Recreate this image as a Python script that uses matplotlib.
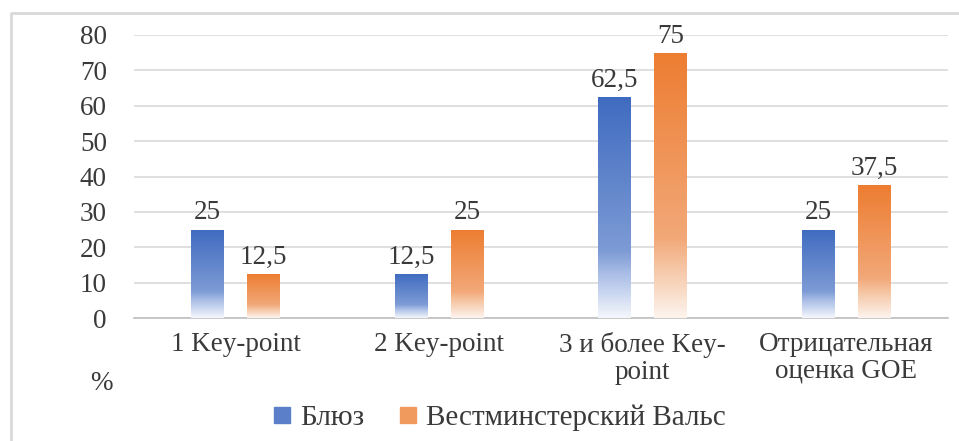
import matplotlib
matplotlib.use("Agg")
import matplotlib.pyplot as plt
import numpy as np
from matplotlib.colors import LinearSegmentedColormap
from matplotlib.patches import Patch
from matplotlib.lines import Line2D

categories = ["1 Key-point", "2 Key-point", "3 и более Key-\npoint", "Отрицательная\nоценка GOE"]
blues = [25, 12.5, 62.5, 25]
walz = [12.5, 25, 75, 37.5]
labels_blues = ["25", "12,5", "62,5", "25"]
labels_walz = ["12,5", "25", "75", "37,5"]
series_names = ["Блюз", "Вестминстерский Вальс"]

plt.rcParams['font.family'] = ['Liberation Serif', 'DejaVu Serif']
txt = '#3a3a3a'
fs = 19.5

fig = plt.figure(figsize=(9.59, 4.41), dpi=100)
ax = fig.add_axes([134 / 959, 1 - 318 / 441, (948 - 134) / 959, (318 - 35) / 441])

# gradient maps: solid at top, fading to white at the bottom
blue_map = LinearSegmentedColormap.from_list("b", [(0, "#f4f7fc"), (0.2, "#a9bde6"), (0.3, "#7d9bd5"), (1, "#3f6bc0")])
orng_map = LinearSegmentedColormap.from_list("o", [(0, "#fdf4ee"), (0.2, "#f5c3a0"), (0.3, "#f2a878"), (1, "#ed7d31")])

x = np.arange(len(categories))
w = 0.162
off = 0.1376
grad = np.linspace(0, 1, 256).reshape(-1, 1)

def gbar(xc, h, cmap):
	bars = ax.bar(xc, h, w, facecolor='none', edgecolor='none', zorder=3)
	for b in bars:
		im = ax.imshow(grad, cmap=cmap, origin='lower', aspect='auto',
			extent=[b.get_x(), b.get_x() + b.get_width(), 0, b.get_height()], zorder=3)
		im.set_clip_path(b)
	return bars

gbar(x - off, blues, blue_map)
gbar(x + off, walz, orng_map)

for i in range(len(categories)):
	ax.annotate(labels_blues[i], (x[i] - off, blues[i]), xytext=(0, 3), textcoords='offset points',
		ha='center', va='bottom', fontsize=fs, color=txt)
	ax.annotate(labels_walz[i], (x[i] + off, walz[i]), xytext=(0, 3), textcoords='offset points',
		ha='center', va='bottom', fontsize=fs, color=txt)

ax.set_xlim(-0.5, len(categories) - 0.5)
ax.set_ylim(0, 80)
ax.set_yticks(range(0, 81, 10))
ax.set_xticks(x)
ax.set_xticklabels(categories, fontsize=fs, color=txt, linespacing=1.1)
ax.tick_params(axis='y', length=0, pad=19.5, labelsize=fs, labelcolor=txt)
ax.tick_params(axis='x', length=0, pad=10)
ax.grid(axis='y', color='#d9d9d9', linewidth=1.2, zorder=0)
ax.set_axisbelow(True)
for s in ['top', 'right', 'left']:
	ax.spines[s].set_visible(False)
ax.spines['bottom'].set_color('#bfbfbf')
ax.spines['bottom'].set_linewidth(1.2)

fig.text(101 / 959, 1 - 383 / 441, "%", fontsize=fs, color=txt, ha='center', va='center')

handles = [Patch(facecolor="#5b80c9", edgecolor="#5b80c9"), Patch(facecolor="#f19a5e", edgecolor="#f19a5e")]
fig.legend(handles, series_names, loc='center', bbox_to_anchor=(500 / 959, 1 - 418 / 441),
	ncol=2, frameon=False, fontsize=21, handlelength=0.55, handleheight=0.45,
	handletextpad=0.35, columnspacing=1.2, labelcolor=txt)

# chart frame (left and top edges visible)
fig.add_artist(Line2D([11 / 959, 11 / 959, 1], [0, 1 - 12.5 / 441, 1 - 12.5 / 441],
	transform=fig.transFigure, color='#d9d9d9', linewidth=2))

fig.savefig("out.png", dpi=100)
